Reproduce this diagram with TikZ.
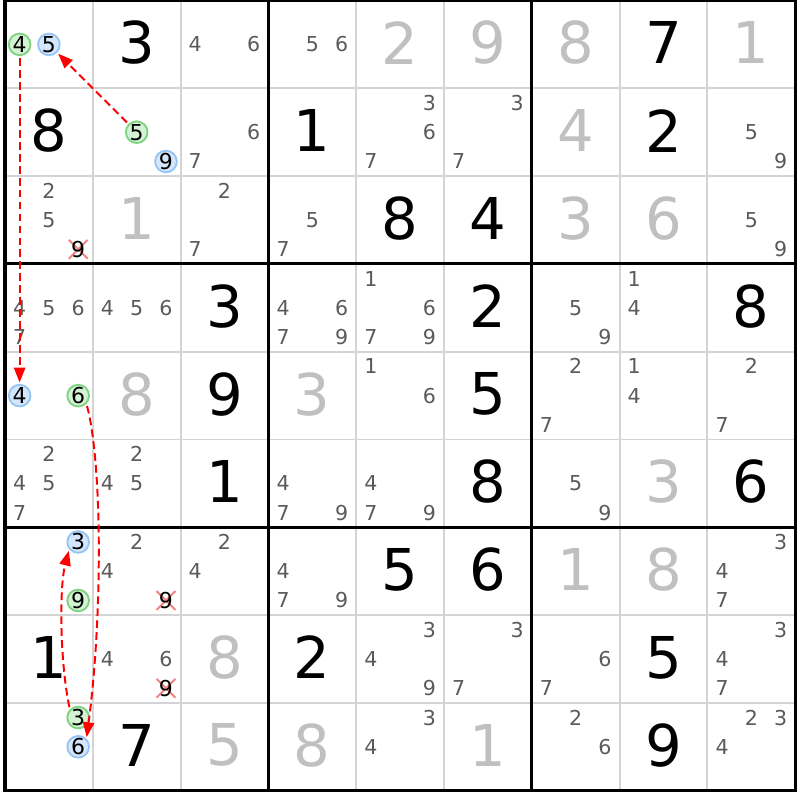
\documentclass[tikz,border=0pt]{standalone}
\usepackage{fontspec}
\setmainfont{DejaVu Sans}
\usepackage{tikz}
\usetikzlibrary{arrows.meta,shapes.misc}

\definecolor{candgrey}{RGB}{90,90,90}
\definecolor{solvedgrey}{RGB}{192,192,192}
\definecolor{gridgrey}{RGB}{212,212,212}
\definecolor{ongreen}{RGB}{212,242,212}
\definecolor{ongreenline}{RGB}{125,210,125}
\definecolor{offblue}{RGB}{212,230,252}
\definecolor{offblueline}{RGB}{150,196,244}
\definecolor{linkred}{RGB}{255,0,0}
\definecolor{strikered}{RGB}{240,130,130}

\begin{document}
\begin{tikzpicture}[x=0.025cm,y=0.025cm,
        given/.style={inner sep=0pt,font=\fontsize{41}{41}\selectfont},
        solved/.style={given,text=solvedgrey},
        cand/.style={inner sep=0pt,font=\fontsize{14.6}{15}\selectfont,text=candgrey},
        candon/.style={cand,circle,minimum size=15.4pt,font=\fontsize{15.6}{16}\selectfont,text=black,draw=ongreenline,fill=ongreen,line width=1.3pt},
        candoff/.style={candon,draw=offblueline,fill=offblue},
        candx/.style={cand,font=\fontsize{15.6}{16}\selectfont,text=black},
        strike/.style={cross out,draw=strikered,line width=1.4pt,minimum size=12pt,inner sep=0pt},
        thinrule/.style={gridgrey,line width=1.4pt},
        thickrule/.style={black,line width=2.2pt},
        link/.style={linkred,line width=1.4pt,dash pattern=on 5.5pt off 3pt,-{Triangle[length=10.5pt,width=8pt]},shorten <=1.5pt,shorten >=1pt}]

        \path[use as bounding box,fill=white] (0,0) rectangle (800,-800);

        \foreach \i in {1,2,4,5,7,8} {
            \draw[thinrule] ({5+87.8*\i},-0.5) -- ({5+87.8*\i},-790.7);
            \draw[thinrule] (5,{-0.5-87.8*\i}) -- (795.2,{-0.5-87.8*\i});
        }
        \foreach \i in {3,6} {
            \draw[thickrule] ({5+87.8*\i},-0.5) -- ({5+87.8*\i},-790.7);
            \draw[thickrule] (5,{-0.5-87.8*\i}) -- (795.2,{-0.5-87.8*\i});
        }
        \draw[thickrule] (5,-0.5) rectangle (795.2,-790.7);

        \foreach \r/\c/\d/\s in {1/2/3/given,1/5/2/solved,1/6/9/solved,1/7/8/solved,1/8/7/given,1/9/1/solved,
            2/1/8/given,2/4/1/given,2/7/4/solved,2/8/2/given,
            3/2/1/solved,3/5/8/given,3/6/4/given,3/7/3/solved,3/8/6/solved,
            4/3/3/given,4/6/2/given,4/9/8/given,
            5/2/8/solved,5/3/9/given,5/4/3/solved,5/6/5/given,
            6/3/1/given,6/6/8/given,6/8/3/solved,6/9/6/given,
            7/5/5/given,7/6/6/given,7/7/1/solved,7/8/8/solved,
            8/1/1/given,8/3/8/solved,8/4/2/given,8/8/5/given,
            9/2/7/given,9/3/5/solved,9/4/8/solved,9/6/1/solved,9/8/9/given}
            \node[\s] (v\r\c) at ({5+87.8*(\c-0.5)},{-0.5-87.8*(\r-0.5)+1.5}) {\d};

        \foreach \r/\c in {3/1,7/2,8/2}
            \node[strike] (x\r\c) at ({5+87.8*(\c-1)+73.17},{-0.5-87.8*(\r-1)-73.17}) {};

        \foreach \r/\c/\d/\s in {1/1/4/candon,1/1/5/candoff,1/3/4/cand,1/3/6/cand,1/4/5/cand,1/4/6/cand,
            2/2/5/candon,2/2/9/candoff,2/3/6/cand,2/3/7/cand,2/5/3/cand,2/5/6/cand,2/5/7/cand,2/6/3/cand,2/6/7/cand,2/9/5/cand,2/9/9/cand,
            3/1/2/cand,3/1/5/cand,3/1/9/candx,3/3/2/cand,3/3/7/cand,3/4/5/cand,3/4/7/cand,3/9/5/cand,3/9/9/cand,
            4/1/4/cand,4/1/5/cand,4/1/6/cand,4/1/7/cand,4/2/4/cand,4/2/5/cand,4/2/6/cand,4/4/4/cand,4/4/6/cand,4/4/7/cand,4/4/9/cand,
            4/5/1/cand,4/5/6/cand,4/5/7/cand,4/5/9/cand,4/7/5/cand,4/7/9/cand,4/8/1/cand,4/8/4/cand,
            5/1/4/candoff,5/1/6/candon,5/5/1/cand,5/5/6/cand,5/7/2/cand,5/7/7/cand,5/8/1/cand,5/8/4/cand,5/9/2/cand,5/9/7/cand,
            6/1/2/cand,6/1/4/cand,6/1/5/cand,6/1/7/cand,6/2/2/cand,6/2/4/cand,6/2/5/cand,6/4/4/cand,6/4/7/cand,6/4/9/cand,
            6/5/4/cand,6/5/7/cand,6/5/9/cand,6/7/5/cand,6/7/9/cand,
            7/1/3/candoff,7/1/9/candon,7/2/2/cand,7/2/4/cand,7/2/9/candx,7/3/2/cand,7/3/4/cand,7/4/4/cand,7/4/7/cand,7/4/9/cand,
            7/9/3/cand,7/9/4/cand,7/9/7/cand,
            8/2/4/cand,8/2/6/cand,8/2/9/candx,8/5/3/cand,8/5/4/cand,8/5/9/cand,8/6/3/cand,8/6/7/cand,8/7/6/cand,8/7/7/cand,
            8/9/3/cand,8/9/4/cand,8/9/7/cand,
            9/1/3/candon,9/1/6/candoff,9/5/3/cand,9/5/4/cand,9/7/2/cand,9/7/6/cand,9/9/2/cand,9/9/3/cand,9/9/4/cand}
            \node[\s] (n\r\c\d) at ({5+87.8*(\c-1)+14.633*(2*mod(\d-1,3)+1)},{-0.5-87.8*(\r-1)-14.633*(2*int((\d-1)/3)+1)}) {\d};

        \draw[link] (n225) -- (n115);
        \draw[link] (n114) -- (n514);
        \draw[link] (n516.-45) .. controls +(16,-60) and +(16,120) .. (n916.45);
        \draw[link] (n913.135) .. controls +(-10,47) and +(-10,-38) .. (n713.220);
    \end{tikzpicture}
\end{document}
